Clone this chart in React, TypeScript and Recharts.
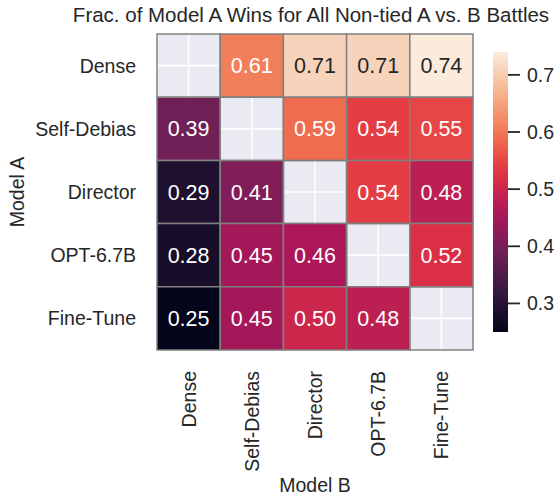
import React from 'react';
import { ScatterChart, Scatter, XAxis, YAxis, CartesianGrid, ReferenceArea, Customized } from 'recharts';

const modelsA = ['Dense', 'Self-Debias', 'Director', 'OPT-6.7B', 'Fine-Tune'];
const modelsB = ['Dense', 'Self-Debias', 'Director', 'OPT-6.7B', 'Fine-Tune'];
const rowDense = [null, 0.61, 0.71, 0.71, 0.74];
const rowSelfDebias = [0.39, null, 0.59, 0.54, 0.55];
const rowDirector = [0.29, 0.41, null, 0.54, 0.48];
const rowOPT = [0.28, 0.45, 0.46, null, 0.52];
const rowFineTune = [0.25, 0.45, 0.50, 0.48, null];
const rows: (number | null)[][] = [rowDense, rowSelfDebias, rowDirector, rowOPT, rowFineTune];
const colorbarTicks = [0.3, 0.4, 0.5, 0.6, 0.7];
const title = 'Frac. of Model A Wins for All Non-tied A vs. B Battles';

const FONT = 'Arial, "Liberation Sans", sans-serif';
const TEXT = '#262626';

const rocketStops: [number, number[]][] = [
  [0, [3, 5, 26]],
  [1 / 7, [53, 25, 62]],
  [2 / 7, [112, 31, 87]],
  [3 / 7, [173, 23, 89]],
  [4 / 7, [225, 51, 66]],
  [5 / 7, [243, 118, 81]],
  [6 / 7, [246, 180, 143]],
  [1, [250, 235, 221]],
];
function rocket(t: number): number[] {
  t = Math.max(0, Math.min(1, t));
  for (let i = 0; i < rocketStops.length - 1; i++) {
    const [t0, c0] = rocketStops[i];
    const [t1, c1] = rocketStops[i + 1];
    if (t <= t1) {
      const f = (t - t0) / (t1 - t0);
      return c0.map((v, k) => Math.round(v + (c1[k] - v) * f));
    }
  }
  return rocketStops[rocketStops.length - 1][1];
}
const toHex = (c: number[]) => '#' + c.map((v) => v.toString(16).padStart(2, '0')).join('');
function lum(c: number[]) {
  const l = c.map((v) => {
    const s = v / 255;
    return s <= 0.03928 ? s / 12.92 : Math.pow((s + 0.055) / 1.055, 2.4);
  });
  return 0.2126 * l[0] + 0.7152 * l[1] + 0.0722 * l[2];
}

const allVals = rows.flat().filter((v) => v !== null) as number[];
const vmin = Math.min(...allVals);
const vmax = Math.max(...allVals);

const cells = rows.flatMap((r, i) => r.map((v, j) => ({ x: j + 0.5, y: i + 0.5, i, j, v })));

const W = 560;
const H = 497;
const margin = { top: 34, right: 87, bottom: 0, left: 0 };
const yAxisW = 157;
const xAxisH = 147;
const TICK_FS = 19.5;

const XTick = (props: any) => {
  const { x, y, payload } = props;
  return (
    <text transform={`translate(${x},${y + 21}) rotate(-90)`} textAnchor="end" dominantBaseline="central" fontSize={TICK_FS} fontFamily={FONT} fill={TEXT}>
      {modelsB[Math.floor(payload.value)]}
    </text>
  );
};
const YTick = (props: any) => {
  const { x, y, payload } = props;
  return (
    <text x={x - 21} y={y} textAnchor="end" dominantBaseline="central" fontSize={TICK_FS} fontFamily={FONT} fill={TEXT}>
      {modelsA[Math.floor(payload.value)]}
    </text>
  );
};

const cbX = 493;
const cbW = 15;
const cbTop = 52;
const cbBot = 332;
const cbY = (v: number) => cbBot - ((v - vmin) / (vmax - vmin)) * (cbBot - cbTop);

const Extras = () => (
  <g>
    <defs>
      <linearGradient id="rocketGrad" x1="0" y1="1" x2="0" y2="0">
        {Array.from({ length: 21 }, (_, k) => k / 20).map((t) => (
          <stop key={t} offset={`${t * 100}%`} stopColor={toHex(rocket(t))} />
        ))}
      </linearGradient>
    </defs>
    <text x={311} y={22} textAnchor="middle" fontSize={20.5} fontFamily={FONT} fill={TEXT}>{title}</text>
    <rect x={cbX} y={cbTop} width={cbW} height={cbBot - cbTop} fill="url(#rocketGrad)" />
    {colorbarTicks.map((t) => (
      <g key={t}>
        <line x1={cbX + cbW} x2={cbX + cbW + 12} y1={cbY(t)} y2={cbY(t)} stroke={TEXT} strokeWidth={1.8} />
        <text x={cbX + cbW + 19} y={cbY(t)} dominantBaseline="central" fontSize={TICK_FS} fontFamily={FONT} fill={TEXT}>{t.toFixed(1)}</text>
      </g>
    ))}
    <text transform={`translate(24,192) rotate(-90)`} textAnchor="middle" fontSize={TICK_FS} fontFamily={FONT} fill={TEXT}>Model A</text>
    <text x={315} y={492} textAnchor="middle" fontSize={TICK_FS} fontFamily={FONT} fill={TEXT}>Model B</text>
  </g>
);

export default function App() {
  return (
    <div style={{ position: 'absolute', left: 0, top: 0, width: W, height: H, background: '#fff' }}>
      <ScatterChart width={W} height={H} margin={margin}>
        <CartesianGrid stroke="#ffffff" strokeWidth={1.6} fill="#EAEAF2" />
        <XAxis type="number" dataKey="x" domain={[0, 5]} ticks={[0.5, 1.5, 2.5, 3.5, 4.5]} height={xAxisH} axisLine={false} tickLine={false} tickSize={0} tickMargin={0} tick={<XTick />} interval={0} allowDataOverflow />
        <YAxis type="number" dataKey="y" domain={[0, 5]} reversed ticks={[0.5, 1.5, 2.5, 3.5, 4.5]} width={yAxisW} axisLine={false} tickLine={false} tickSize={0} tickMargin={0} tick={<YTick />} interval={0} allowDataOverflow />
        <Scatter data={cells} isAnimationActive={false} shape={() => <g />} />
        {cells.map((c) => {
          if (c.v === null) {
            return (
              <ReferenceArea key={`${c.i}-${c.j}`} x1={c.j} x2={c.j + 1} y1={c.i} y2={c.i + 1} fill="none" fillOpacity={0} stroke="#808080" strokeWidth={1.5} strokeOpacity={1} />
            );
          }
          const col = rocket((c.v - vmin) / (vmax - vmin));
          const tc = lum(col) > 0.408 ? TEXT : '#ffffff';
          return (
            <ReferenceArea
              key={`${c.i}-${c.j}`}
              x1={c.j}
              x2={c.j + 1}
              y1={c.i}
              y2={c.i + 1}
              fill={toHex(col)}
              fillOpacity={1}
              stroke="#808080"
              strokeWidth={1.5}
              strokeOpacity={1}
              label={{ value: c.v.toFixed(2), position: 'center', fill: tc, fontSize: 21.5, fontFamily: FONT }}
            />
          );
        })}
        <Customized component={Extras} />
      </ScatterChart>
    </div>
  );
}
